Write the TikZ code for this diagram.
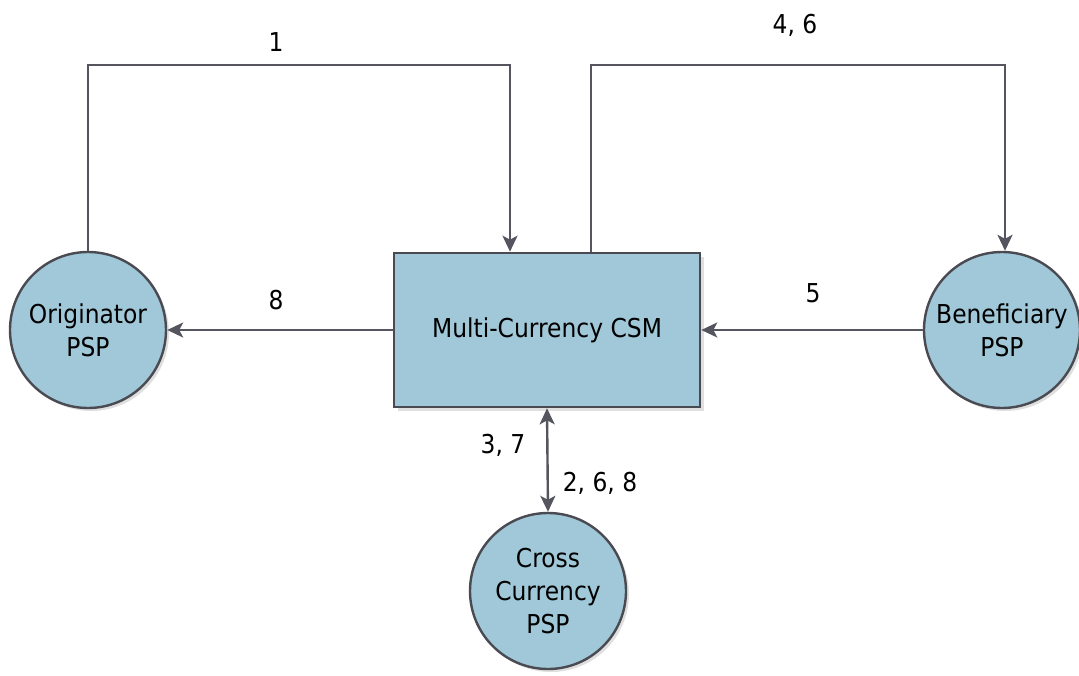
\documentclass[tikz,border=0pt]{standalone}
\usepackage{fontspec}
\setmainfont{DejaVu Sans}[FakeStretch=0.9]
\usetikzlibrary{arrows.meta,shadows}
\definecolor{nodefill}{HTML}{A0C8D8}
\definecolor{nodeedge}{HTML}{4A4A52}
\definecolor{linecol}{HTML}{55555F}
\tikzset{
  every node/.style={font=\fontsize{26}{33}\selectfont, text=black},
  psp/.style={circle, draw=nodeedge, line width=2.4pt, fill=nodefill, minimum size=156pt, inner sep=0pt, align=center,
    drop shadow={shadow xshift=3pt, shadow yshift=-3pt, opacity=0.25, fill=gray}},
  csm/.style={rectangle, draw=nodeedge, line width=2.6pt, fill=nodefill, minimum width=306pt, minimum height=154pt, inner sep=0pt,
    drop shadow={shadow xshift=4pt, shadow yshift=-4pt, opacity=0.25, fill=gray}},
  conn/.style={draw=linecol, line width=2.4pt, -{Stealth[length=16pt,width=15pt,inset=4pt]}},
  lbl/.style={inner sep=0pt}
}
\begin{document}
\begin{tikzpicture}[x=1pt,y=-1pt]
\useasboundingbox (0,0) rectangle (1079,675);
\node[psp] (orig) at (88,330) {Originator\\PSP};
\node[csm] (csm) at (547,330) {Multi-Currency CSM};
\node[psp] (bene) at (1002,330) {Beneficiary\\PSP};
\node[psp] (cross) at (548,591) {Cross\\Currency\\PSP};
\coordinate (c1a) at (88,65);
\coordinate (c1b) at (510,65);
\coordinate (c2a) at (591,65);
\coordinate (c2b) at (1005,65);
\draw[conn] (orig.north) -- (c1a) -- (c1b) -- (csm.north -| c1b);
\draw[conn] (csm.north -| c2a) -- (c2a) -- (c2b) -- (bene.north -| c2b);
\draw[conn] (csm.west) -- (orig.east);
\draw[conn] (bene.west) -- (csm.east);
\draw[conn, {Stealth[length=16pt,width=15pt,inset=4pt]}-{Stealth[length=16pt,width=15pt,inset=4pt]}] (csm.south) -- (cross.north);
\node[lbl] (l1) at (276,42) {1};
\node[lbl] (l46) at (795,25) {4, 6};
\node[lbl] (l8) at (276,300) {8};
\node[lbl] (l5) at (813,293) {5};
\node[lbl] (l37) at (503,445) {3, 7};
\node[lbl] (l268) at (600,483) {2, 6, 8};
\end{tikzpicture}
\end{document}
